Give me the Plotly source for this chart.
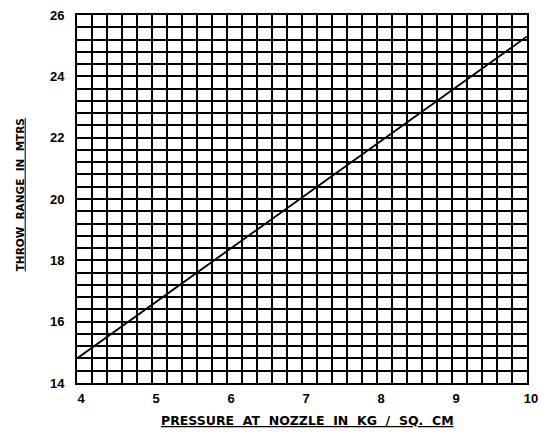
import plotly.graph_objects as go

pressure = [4, 10]
throw_range = [14.8, 25.3]
x_ticks = [4, 5, 6, 7, 8, 9, 10]
y_ticks = [14, 16, 18, 20, 22, 24, 26]

fig = go.Figure()
fig.add_trace(go.Scatter(x=pressure, y=throw_range, mode="lines",
                         line=dict(color="black", width=1.8), showlegend=False))

fnt = dict(family="Liberation Sans", size=13, color="black")
grid = dict(showgrid=True, gridcolor="black", gridwidth=1.6)
fig.update_layout(
    width=530, height=423,
    margin=dict(l=69, r=11, t=7, b=48, autoexpand=False),
    paper_bgcolor="white", plot_bgcolor="white",
    font=fnt,
    xaxis=dict(range=[4, 10], tickvals=x_ticks, ticktext=[f"<b>{v}</b>" for v in x_ticks],
               **grid,
               minor=dict(dtick=0.2, tick0=4, showgrid=True, gridcolor="black", gridwidth=1.6),
               showline=True, linecolor="black", linewidth=2, mirror=True,
               ticks="", zeroline=False, ticklabelstandoff=2, ticklabelshift=4,
               automargin=False, ticklabeloverflow="allow",
               tickfont=dict(family="Liberation Sans", size=13)),
    yaxis=dict(range=[14, 26], tickvals=y_ticks, ticktext=[f"<b>{v}</b>" for v in y_ticks],
               **grid,
               minor=dict(dtick=0.4, tick0=14, showgrid=True, gridcolor="black", gridwidth=1.6),
               showline=True, linecolor="black", linewidth=2, mirror=True,
               ticks="", zeroline=False, ticklabelstandoff=8, automargin=False,
               ticklabeloverflow="allow",
               tickfont=dict(family="Liberation Sans", size=13)),
    annotations=[
        dict(text="<b><u>PRESSURE  AT  NOZZLE  IN  KG  /  SQ.  CM</u></b>",
             xref="paper", yref="paper", x=0.513, y=0, yshift=-37,
             xanchor="center", yanchor="middle", showarrow=False,
             font=dict(family="DejaVu Sans", size=12.5)),
        dict(text="<b><u>THROW  RANGE  IN  MTRS</u></b>",
             xref="paper", yref="paper", x=0, xshift=-57, y=0.51,
             xanchor="center", yanchor="middle", textangle=-90, showarrow=False,
             font=dict(family="DejaVu Sans", size=10.5)),
    ],
)
fig.write_html("out.html")
